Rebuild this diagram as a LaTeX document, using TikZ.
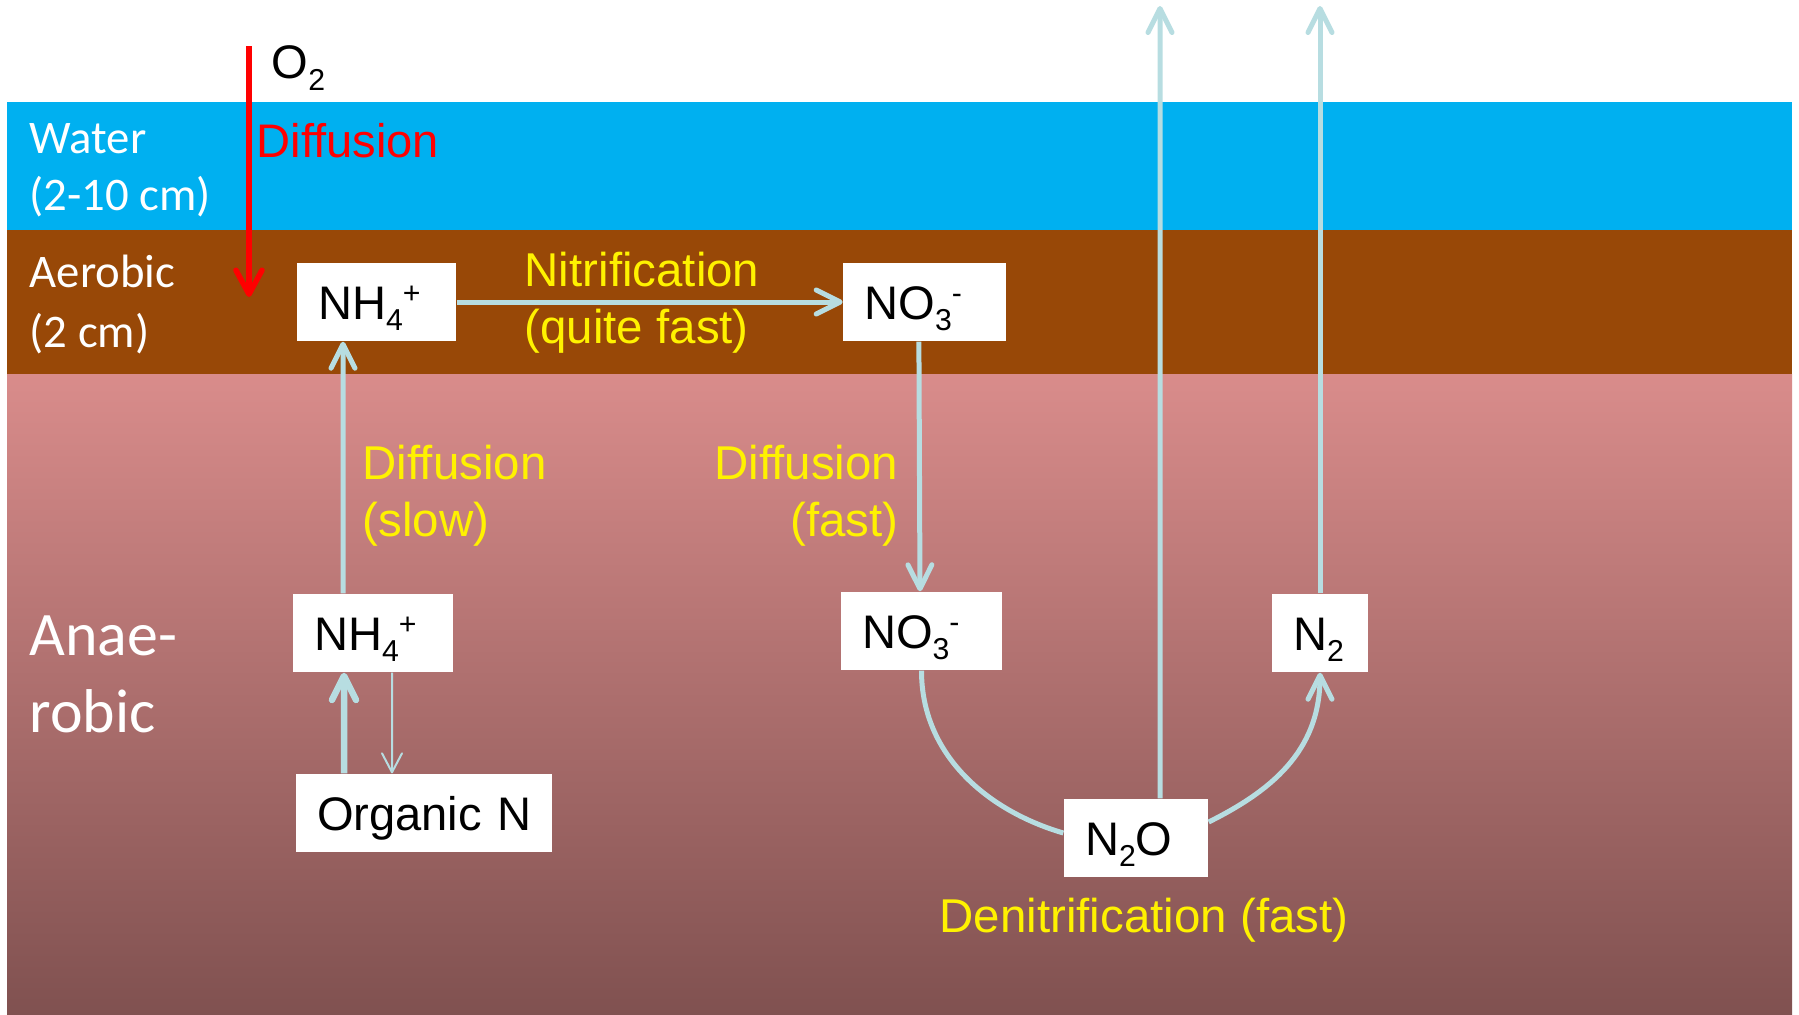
\documentclass[tikz,border=0pt]{standalone}
\usepackage{fontspec}
\setmainfont{Liberation Sans}
\newfontfamily\layerfont{Carlito}
\usepackage{xcolor}
\usepackage{tikz}
\usetikzlibrary{arrows.meta, positioning, calc}
\definecolor{waterblue}{RGB}{0,176,240}
\definecolor{soilbrown}{RGB}{152,72,7}
\definecolor{mudtop}{RGB}{217,140,139}
\definecolor{mudbottom}{RGB}{128,81,80}
\definecolor{flowblue}{RGB}{183,221,225}
\newcommand{\chemsub}[1]{\raisebox{-0.25em}{\fontsize{8.6}{8.6}\selectfont #1}}
\newcommand{\chemsup}[1]{\raisebox{0.33em}{\fontsize{8.6}{8.6}\selectfont #1}}
\tikzset{
  chem/.style={rectangle, fill=white, inner xsep=2.1mm, inner ysep=0pt, minimum height=7.8mm, text height=4.2mm, text depth=0.8mm, align=left, font=\fontsize{13.4}{16}\selectfont},
  layer/.style={text=white, align=left, anchor=base west, inner sep=0pt, font=\layerfont\fontsize{13.3}{16.2}\selectfont},
  rate/.style={text=yellow, align=left, anchor=base west, inner sep=0pt, font=\fontsize{13.5}{16.2}\selectfont},
  plain/.style={anchor=base west, inner sep=0pt, font=\fontsize{13.4}{16}\selectfont},
  flow/.style={draw=flowblue, line width=0.5mm, -{Straight Barb[length=2.4mm, width=2.4mm, round]}},
  flowline/.style={draw=flowblue, line width=0.5mm},
  thinflow/.style={draw=flowblue, line width=0.2mm, -{Straight Barb[length=1.9mm, width=2mm, round]}},
  o2flow/.style={draw=red, line width=0.55mm, -{Straight Barb[length=2.4mm, width=2.6mm, round]}},
}
\begin{document}
\begin{tikzpicture}[x=0.1mm, y=-0.1mm]
  \useasboundingbox (0,0) rectangle (1799,1015);
  % Layers
  \fill[waterblue] (7,102) rectangle (1792,230);
  \fill[soilbrown] (7,230) rectangle (1792,374);
  \shade[top color=mudtop, bottom color=mudbottom] (7,374) rectangle (1792,1015);

  % Layer labels (base = last line)
  \node[layer] (water) at (29,210) {Water\\(2-10 cm)};
  \node[layer, font=\layerfont\fontsize{13.3}{16.8}\selectfont] (aerobic) at (29,347) {Aerobic\\(2 cm)};
  \node[layer, font=\layerfont\fontsize{17.6}{21.9}\selectfont] (anaerobic) at (29,732) {Anae-\\robic};

  % Nodes
  \node[chem, text width=11.7mm] (nhA) at (376.5,302) {NH\chemsub{4}\chemsup{+}};
  \node[chem, text width=12.1mm, right=38.6mm of nhA] (noA) {NO\chemsub{3}\chemsup{-}};
  \node[chem, text width=11.8mm] (nhB) at (373,633) {NH\chemsub{4}\chemsup{+}};
  \node[chem, text width=21.4mm] (orgN) at (424,813) {Organic~N};
  \node[chem, text width=11.9mm] (noB) at (921.5,631) {NO\chemsub{3}\chemsup{-}};
  \node[chem, text width=10.2mm] (n2o) at (1136,838) {N\chemsub{2}O};
  \node[chem, text width=5.4mm] (n2) at (1320,633) {N\chemsub{2}};
  \coordinate (skyA) at (1160,6);
  \coordinate (skyB) at (1320,6);
  \coordinate (o2top) at (249,46);
  \coordinate (o2tip) at (249,297);

  % Labels
  \node[plain] (o2) at (271,79) {O\chemsub{2}};
  \node[plain, text=red] (diffred) at (256,157) {Diffusion};
  \node[rate] (nitri) at (524,343) {Nitrification\\(quite fast)};
  \node[rate] (slowlbl) at (362,536) {Diffusion\\(slow)};
  \node[rate, anchor=base east, align=right] (fastlbl) at (899,536) {Diffusion\\(fast)};
  \node[rate] (denitri) at (939,932) {Denitrification (fast)};

  % Arrows
  \draw[o2flow] (o2top) -- (o2tip);
  \draw[flow] (nhA) -- (noA);
  \draw[flow] ([xshift=-3mm]nhB.north) -- ([xshift=-3.35mm]nhA.south);
  \draw[flow, line width=0.65mm] ([xshift=-8mm]orgN.north) -- ([xshift=-2.9mm]nhB.south);
  \draw[thinflow] ([xshift=1.9mm]nhB.south) -- ([xshift=-3.2mm]orgN.north);
  \draw[flow] ([xshift=-0.6mm]noA.south) -- ([xshift=-0.15mm]noB.north);
  \draw[flowline] (noB.south) .. controls +(0,85) and +(-75,-22) .. ([yshift=0.5mm]n2o.west);
  \draw[flow] ([yshift=1.6mm]n2o.east) .. controls +(60,-30) and +(0,80) .. (n2.south);
  \draw[flow] ([xshift=2.4mm]n2o.north) -- (skyA);
  \draw[flow] (n2) -- (skyB);
\end{tikzpicture}
\end{document}
